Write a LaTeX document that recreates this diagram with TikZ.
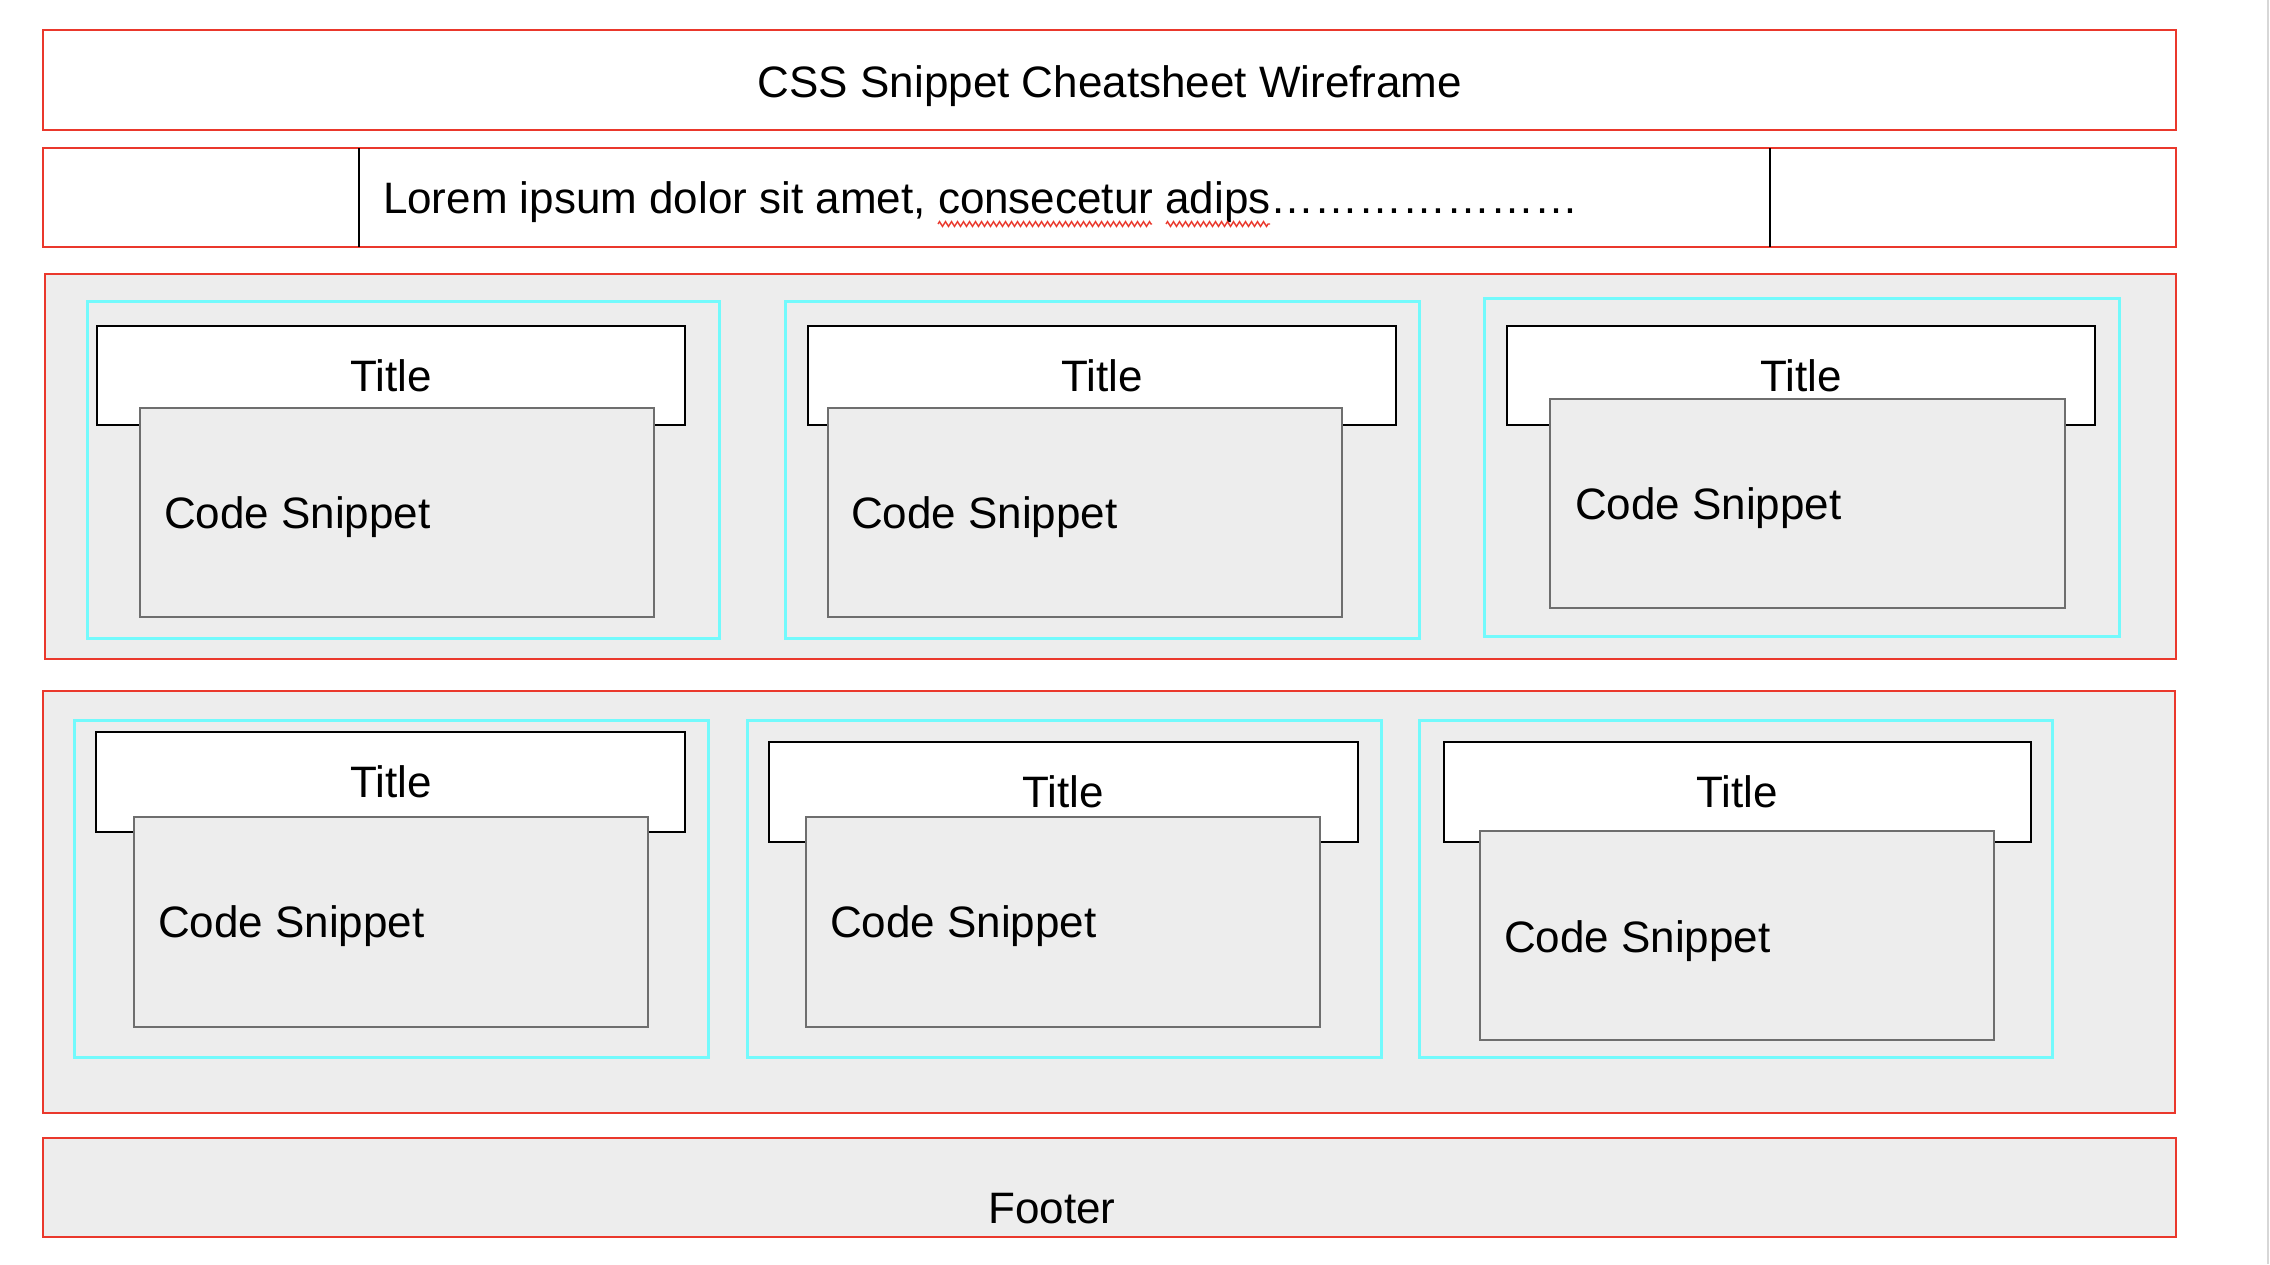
\documentclass[tikz,border=0pt]{standalone}
\usepackage{fontspec}
\setmainfont{Liberation Sans}
\usetikzlibrary{decorations.pathmorphing}
\definecolor{wfred}{RGB}{234,56,44}
\definecolor{wfcyan}{RGB}{115,250,252}
\definecolor{wfgray}{RGB}{237,237,237}
\definecolor{wfedge}{RGB}{110,110,110}
\tikzset{
  rowbox/.style={draw=wfred, line width=2.5pt, fill=white},
  panel/.style={draw=wfred, line width=2.5pt, fill=wfgray},
  cardbox/.style={draw=wfcyan, line width=3pt},
  titlebox/.style={draw=black, line width=2.5pt, fill=white},
  codebox/.style={draw=wfedge, line width=2.5pt, fill=wfgray},
  txt/.style={inner sep=0pt, outer sep=0pt, font=\fontsize{44}{53}\selectfont},
  squiggle/.style={draw=wfred, line width=1.4pt, decorate, decoration={zigzag, segment length=6pt, amplitude=2.4pt}}
}
\newcommand{\wfbox}[6]{\node[#1, anchor=north west, inner sep=0pt, outer sep=0pt, minimum width={#5-#3}, minimum height={#6-#4}] (#2) at (#3,#4) {};}
\begin{document}
\begin{tikzpicture}[x=1pt, y=-1pt]
\useasboundingbox (0,0) rectangle (2270,1264);
% right edge line
\coordinate (edgetop) at (2268,0);
\coordinate (edgebot) at (2268,1264);
\draw[draw={rgb,255:red,215;green,215;blue,215}, line width=2pt] (edgetop) -- (edgebot);

% header
\wfbox{rowbox}{header}{43}{30}{2176}{130}
\node[txt, anchor=base] (headertxt) at (1110,97) {CSS Snippet Cheatsheet Wireframe};

% lorem row
\wfbox{rowbox}{lorem}{43}{148}{2176}{247}
\coordinate (la) at (359,148);
\coordinate (lb) at (359,247);
\coordinate (lc) at (1770,148);
\coordinate (ld) at (1770,247);
\draw[line width=2.5pt, black] (la) -- (lb);
\draw[line width=2.5pt, black] (lc) -- (ld);
\node[txt, anchor=base west] (lorextxt) at (383,213) {Lorem ipsum dolor sit amet, consecetur adips…………………};
\coordinate (sq1a) at (938,224);
\coordinate (sq1b) at (1152,224);
\coordinate (sq2a) at (1166,224);
\coordinate (sq2b) at (1270,224);
\draw[squiggle] (sq1a) -- (sq1b);
\draw[squiggle] (sq2a) -- (sq2b);

% row 1
\wfbox{panel}{rowone}{45}{274}{2176}{659}
\wfbox{cardbox}{c11}{87}{301}{719}{638}
\wfbox{cardbox}{c12}{785}{301}{1419}{638}
\wfbox{cardbox}{c13}{1484}{298}{2119}{636}
\wfbox{titlebox}{t11}{97}{326}{685}{425}
\wfbox{titlebox}{t12}{808}{326}{1396}{425}
\wfbox{titlebox}{t13}{1507}{326}{2095}{425}
\node[txt, anchor=base] (tt11) at (391,391) {Title};
\node[txt, anchor=base] (tt12) at (1102,391) {Title};
\node[txt, anchor=base] (tt13) at (1801,391) {Title};
\wfbox{codebox}{s11}{140}{408}{654}{617}
\wfbox{codebox}{s12}{828}{408}{1342}{617}
\wfbox{codebox}{s13}{1550}{399}{2065}{608}
\node[txt, anchor=base west] (st11) at (164,528) {Code Snippet};
\node[txt, anchor=base west] (st12) at (851,528) {Code Snippet};
\node[txt, anchor=base west] (st13) at (1575,519) {Code Snippet};

% row 2
\wfbox{panel}{rowtwo}{43}{691}{2175}{1113}
\wfbox{cardbox}{c21}{74}{720}{708}{1057}
\wfbox{cardbox}{c22}{747}{720}{1381}{1057}
\wfbox{cardbox}{c23}{1419}{720}{2052}{1057}
\wfbox{titlebox}{t21}{96}{732}{685}{832}
\wfbox{titlebox}{t22}{769}{742}{1358}{842}
\wfbox{titlebox}{t23}{1444}{742}{2031}{842}
\node[txt, anchor=base] (tt21) at (391,797) {Title};
\node[txt, anchor=base] (tt22) at (1063,807) {Title};
\node[txt, anchor=base] (tt23) at (1737,807) {Title};
\wfbox{codebox}{s21}{134}{817}{648}{1027}
\wfbox{codebox}{s22}{806}{817}{1320}{1027}
\wfbox{codebox}{s23}{1480}{831}{1994}{1040}
\node[txt, anchor=base west] (st21) at (158,937) {Code Snippet};
\node[txt, anchor=base west] (st22) at (830,937) {Code Snippet};
\node[txt, anchor=base west] (st23) at (1504,952) {Code Snippet};

% footer
\wfbox{panel}{footer}{43}{1138}{2176}{1237}
\node[txt, anchor=base] (footertxt) at (1052,1223) {Footer};
\end{tikzpicture}
\end{document}
